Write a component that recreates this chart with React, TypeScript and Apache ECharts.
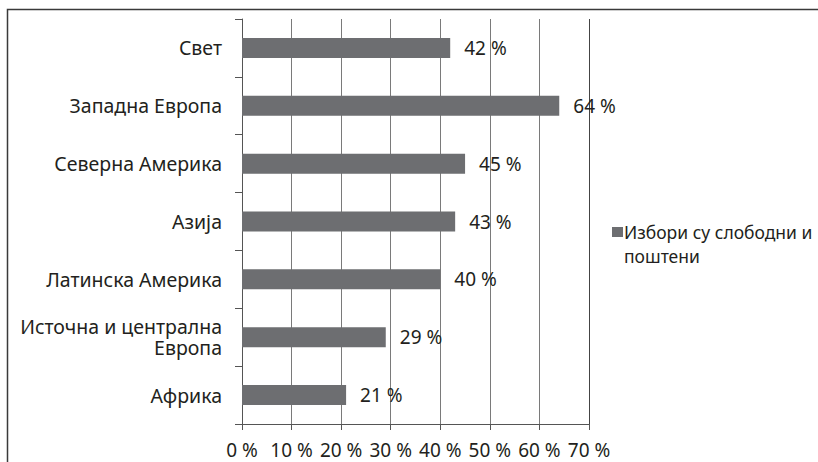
import React, { useEffect, useRef } from "react";
import * as echarts from "echarts";

const categories = [
  "Свет",
  "Западна Европа",
  "Северна Америка",
  "Азија",
  "Латинска Америка",
  "Источна и централна\nЕвропа",
  "Африка",
];
const values = [42, 64, 45, 43, 40, 29, 21];
const seriesName = "Избори су слободни и поштени";
const legendLabel = " \nИзбори су слободни и\nпоштени";

const FONT = "'Noto Sans', 'Open Sans', sans-serif";
const TEXT = "#231f20";

export default function App() {
  const ref = useRef<HTMLDivElement>(null);
  useEffect(() => {
    if (!ref.current) return;
    const chart = echarts.init(ref.current, null, { renderer: "svg" });
    chart.setOption({
      animation: false,
      backgroundColor: "#ffffff",
      textStyle: { fontFamily: FONT },
      graphic: [
        {
          type: "rect",
          shape: { x: 7.5, y: 9.5, width: 900, height: 600 },
          style: { fill: "none", stroke: "#3a3a3a", lineWidth: 1.5 },
          silent: true,
        },
      ],
      grid: { left: 242, top: 19, right: 229, bottom: 38 },
      legend: {
        left: 607,
        top: 191,
        orient: "vertical",
        icon: "rect",
        itemWidth: 11,
        itemHeight: 10,
        itemGap: 4,
        data: [seriesName],
        formatter: () => legendLabel,
        textStyle: {
          fontFamily: FONT,
          fontSize: 17.5,
          color: TEXT,
          lineHeight: 24,
          padding: [0, 0, 0, -4],
        },
      },
      xAxis: {
        type: "value",
        min: 0,
        max: 70,
        interval: 10,
        axisLine: { show: true, lineStyle: { color: "#555", width: 1 } },
        axisTick: { show: true, length: 6, lineStyle: { color: "#555" } },
        axisLabel: {
          formatter: "{value} %",
          fontSize: 19,
          color: TEXT,
          margin: 16,
          fontFamily: FONT,
        },
        splitLine: {
          show: true,
          lineStyle: {
            color: ["#555", "#7a7a7a", "#7a7a7a", "#7a7a7a", "#7a7a7a", "#7a7a7a", "#7a7a7a", "#444"],
            width: 1,
          },
        },
      },
      yAxis: {
        type: "category",
        inverse: true,
        data: categories,
        axisLine: { show: true, lineStyle: { color: "#555", width: 1 } },
        axisTick: { show: true, length: 7, lineStyle: { color: "#555" } },
        axisLabel: {
          fontSize: 19.5,
          color: TEXT,
          margin: 20,
          lineHeight: 21,
          fontFamily: FONT,
        },
      },
      series: [
        {
          name: seriesName,
          type: "bar",
          data: values,
          barWidth: 20,
          itemStyle: { color: "#6d6e71" },
          label: {
            show: true,
            position: "right",
            distance: 14,
            formatter: "{c} %",
            fontSize: 19,
            color: TEXT,
            fontFamily: FONT,
          },
        },
      ],
    });
    return () => chart.dispose();
  }, []);
  return (
    <div
      ref={ref}
      style={{ position: "fixed", left: 0, top: 0, width: 818, height: 462 }}
    />
  );
}
